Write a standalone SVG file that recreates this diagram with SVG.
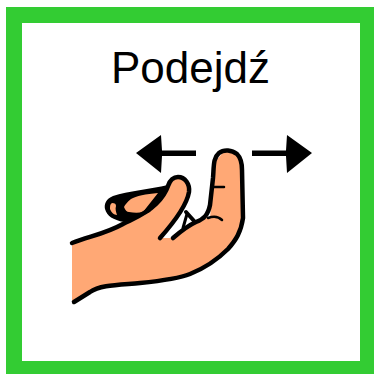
<svg xmlns="http://www.w3.org/2000/svg" width="374" height="374" viewBox="0 0 374 374">
<style>
.o{fill:none;stroke:#000;stroke-width:4.500;stroke-linecap:round;stroke-linejoin:round}
.s{fill:#ffa875}
.t{font-family:"Liberation Sans",Arial,sans-serif;font-size:44px;fill:#000;text-anchor:middle}
</style>
<path d="M6 7H374V374H6ZM22 23V361H360V23Z" fill="#33cc33" fill-rule="evenodd"/>
<text class="t" x="190.500" y="83">Podejdź</text>
<path d="M136 153L161 135L162 150.500H196V156H162L161 173Z" fill="#000"/>
<path d="M312 153L287 135L286 150.500H252V156H286L287 173Z" fill="#000"/>
<path d="M168 185C150 189 128 191 113 196C106 199 104 204 105 209C107 216 113 220 124 222L150 214L170 190Z" fill="#000"/>
<path class="s" d="M158 193C146 194 136 196 131 199C127 202 125 205 124 207C125 210 127 212 129 212C134 213 139 213 143 212Z"/>
<path class="s" d="M112 203C115 203 116 204 116 206C115 209 116 212 117 215C114 215 111 212 110 209C110 206 110 204 112 203Z"/>
<path class="s" d="M72 243L100 234L123 224L150 212L165 190L175 177L187 182L189 192L183 208L172 222L160 238L173 238L193 223L210 217L213 187L215 162L225 150L238 153L243 163L243 220L230 247L207 267L183 278L140 283L93 288L72 302Z"/>
<g class="o">
<path d="M72 243C90 236 105 234 123 224C135 218 146 214 156 204C162 198 166 192 168 186C170 180 174 177 178 177C185 177 190 184 189 192C187 204 176 220 160 238"/>
<path d="M186 212L195 222" stroke-width="4"/>
<path d="M173 238C180 232 187 226 196 222C204 219 208 215 210 205L213 178C214 166 213 158 219 153C224 149 232 150 237 154C241 158 242 162 242 170L243 218C241 232 236 240 228 249C218 259 205 268 190 274C178 279 160 281 140 283C118 285 100 285 90 292L74 302"/>
<path d="M212 187H224" stroke-width="2.500"/>
<path d="M208 218C213 216 218 216 222 220" stroke-width="2.500"/>
<path d="M187 214L183 228" stroke-width="3"/>
</g>
</svg>
